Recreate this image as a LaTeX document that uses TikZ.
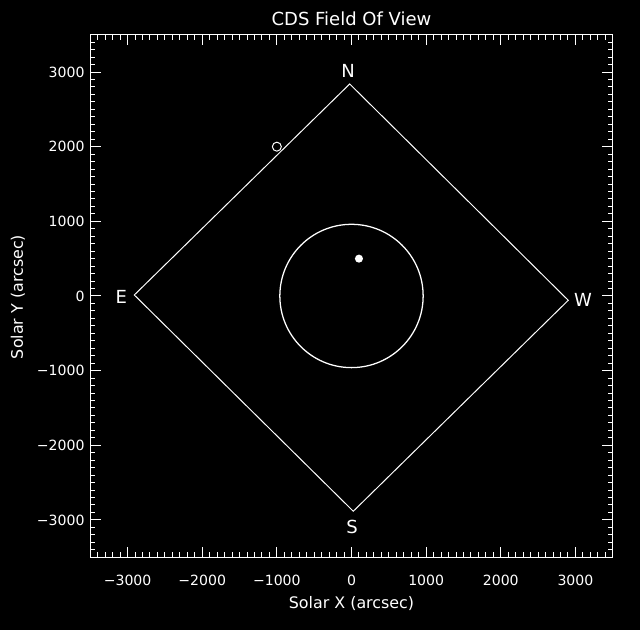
\documentclass[tikz,border=0pt]{standalone}
\usepackage{fontspec}
\setmainfont{DejaVu Sans}

\begin{document}
\begin{tikzpicture}[x=1.866cm,y=1.866cm,line width=0.7pt,
  tick label/.style={text=white,font=\fontsize{10}{12}\selectfont,inner sep=0pt},
  compass/.style={text=white,font=\fontsize{12.8}{15}\selectfont,inner sep=0pt},
  axis label/.style={text=white,font=\fontsize{11.3}{13}\selectfont,inner sep=0pt}]
  \fill[black] (-4.709,-4.474) rectangle (3.865,3.965);
  \useasboundingbox (-4.709,-4.474) rectangle (3.865,3.965);
  % frame and ticks
  \draw[white] (-3.5,-3.5) rectangle (3.5,3.5);
  \foreach \i in {-34,...,34} {
    \draw[white] (\i/10,3.5) -- ++(0,-0.067);
    \draw[white] (\i/10,-3.5) -- ++(0,0.067);
    \draw[white] (-3.5,\i/10) -- ++(0.067,0);
    \draw[white] (3.5,\i/10) -- ++(-0.067,0);
  }
  \foreach \v/\txt [count=\k] in {-3/−3000,-2/−2000,-1/−1000,0/0,1/1000,2/2000,3/3000} {
    \draw[white] (\v,3.5) -- ++(0,-0.14);
    \draw[white] (\v,-3.5) -- ++(0,0.14);
    \draw[white] (-3.5,\v) -- ++(0.14,0);
    \draw[white] (3.5,\v) -- ++(-0.14,0);
    \node[tick label] (xt\k) at (\v,-3.804) {\txt};
    \node[tick label,anchor=east] (yt\k) at (-3.57,\v) {\txt};
  }
  \node[compass] (title) at (0,3.711) {CDS Field Of View};
  \node[axis label] (xlabel) at (0,-4.122) {Solar X (arcsec)};
  \node[axis label,rotate=90] (ylabel) at (-4.468,-0.013) {Solar Y (arcsec)};
  % field of view
  \coordinate (north) at (-0.024,2.840);
  \coordinate (east) at (-2.910,0.013);
  \coordinate (south) at (0.024,-2.884);
  \coordinate (west) at (2.904,-0.058);
  \draw[white] (north) -- (east) -- (south) -- (west) -- cycle;
  \node[compass] (N) at (-0.047,3.014) {N};
  \node[compass] (E) at (-3.084,-0.009) {E};
  \node[compass] (S) at (0.007,-3.092) {S};
  \node[compass] (W) at (3.101,-0.058) {W};
  % sun and pointings
  \draw[white,line width=0.9pt] (0,0) circle (0.96);
  \fill[white] (0.1,0.5) circle (0.054);
  \draw[white] (-1.0,2.0) circle (0.06);
\end{tikzpicture}
\end{document}
